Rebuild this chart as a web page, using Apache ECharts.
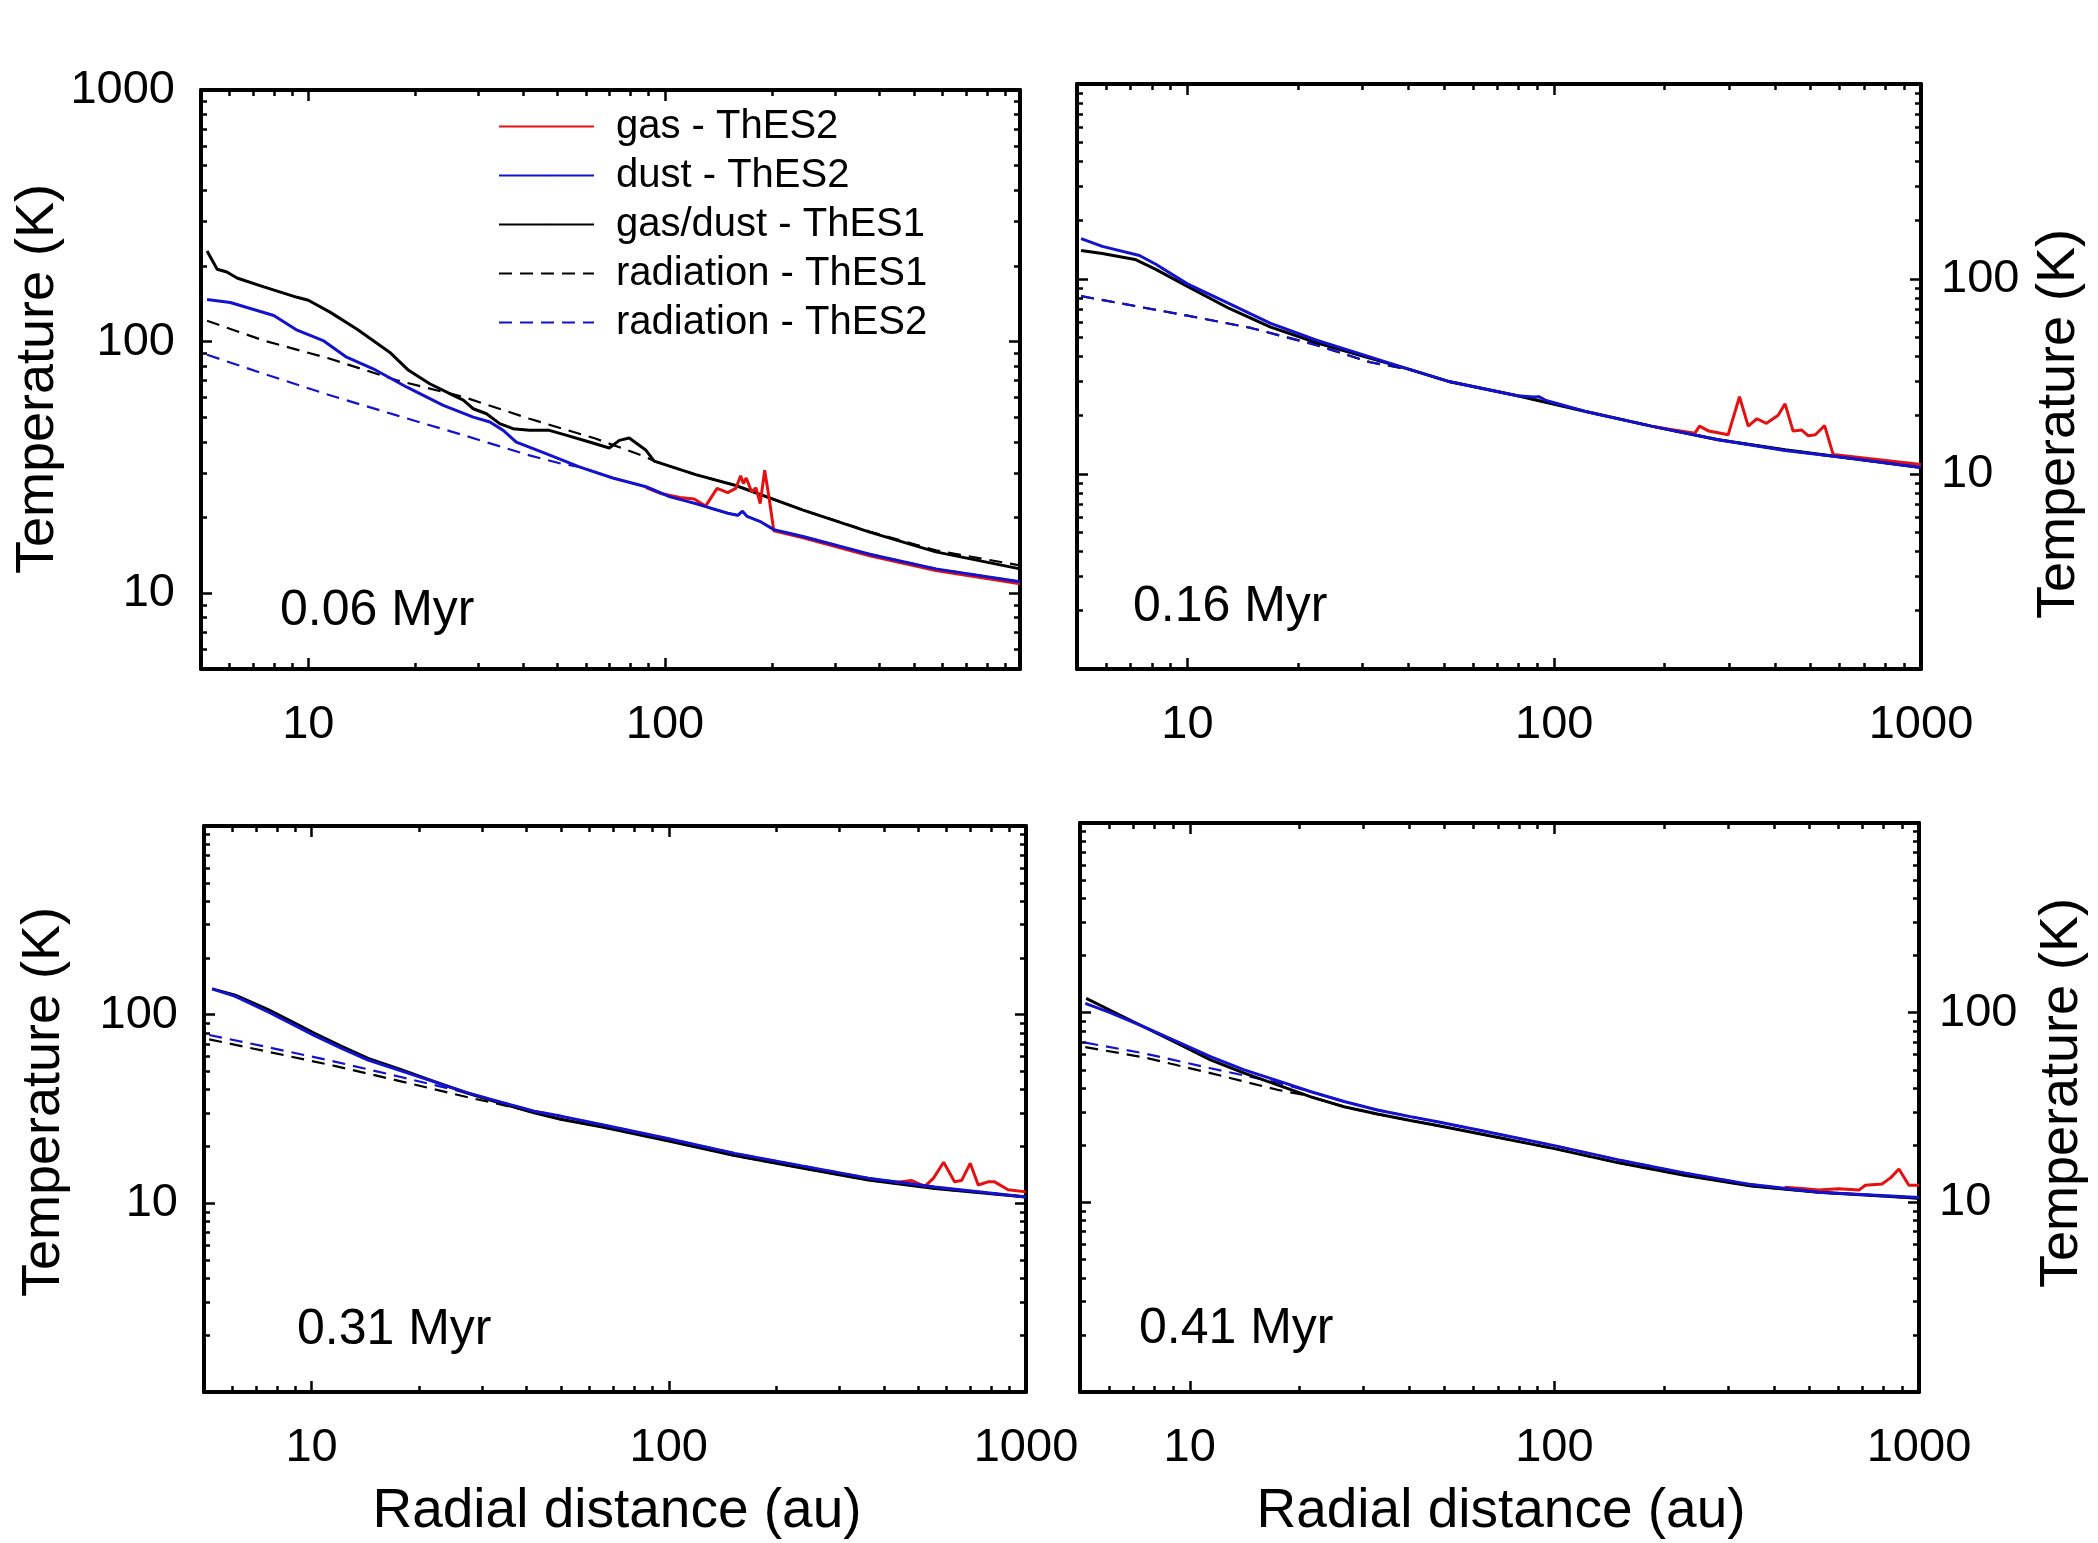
<!DOCTYPE html>
<html>
<head>
<meta charset="utf-8">
<script src="https://cdn.jsdelivr.net/npm/echarts@6/dist/echarts.min.js"></script>
<style>
html, body { margin: 0; padding: 0; background: #fff; }
#chart { width: 2098px; height: 1543px; }
</style>
</head>
<body>
<div id="chart"></div>
<script>
var seriesNames = ['gas - ThES2', 'dust - ThES2', 'gas/dust - ThES1', 'radiation - ThES1', 'radiation - ThES2'];
var ageLabels = ['0.06 Myr', '0.16 Myr', '0.31 Myr', '0.41 Myr'];
var xTitle = 'Radial distance (au)';
var yTitle = 'Temperature (K)';
var majorTicks = [1, 10, 100, 1000];
var minorSteps = [2, 3, 4, 5, 6, 7, 8, 9];

// 0.06 Myr  [r (au), T (K)]
var p1Gas = [[88.5, 26.3], [97.5, 24.9], [110, 24.0], [120.8, 23.7], [130, 22.2], [140, 26.1], [150, 25.1], [158, 26.1], [163, 29.3], [166, 27.3], [169, 28.7], [175, 25.3], [180, 26.2], [185, 22.7], [190.4, 30.8], [196, 23.8], [202, 17.7], [244, 16.6], [375, 14.1], [575, 12.3], [990, 10.9]];
var p1Dust = [[5.2, 147], [6.04, 143], [8.0, 127], [9.3, 111], [11, 101], [12.8, 86.7], [15.2, 78], [18.9, 65.9], [23.9, 55.8], [29, 50.1], [32.3, 47.9], [35.2, 44.4], [38.3, 39.9], [46.4, 35.9], [57.5, 31.8], [71.4, 28.7], [88.5, 26.5], [103, 24.2], [122, 22.7], [150, 20.8], [160, 20.4], [165, 21.2], [170, 20.2], [186, 19.2], [202, 17.9], [244, 16.8], [375, 14.3], [575, 12.5], [990, 11.1]];
var p1Thes1 = [[5.2, 229], [5.55, 194], [5.91, 189], [6.31, 179], [7.5, 165], [9.3, 150], [10, 146], [11.5, 131], [13.7, 112], [16.9, 90.8], [19.1, 76.9], [21.9, 68], [25.5, 61.2], [27.2, 58.5], [29, 54.1], [31.6, 51.7], [34.4, 47.2], [37.5, 45.1], [41.7, 44.4], [47.4, 44.4], [52.8, 42.5], [61.4, 39.9], [69.8, 37.8], [74.5, 40.5], [79.4, 41.4], [88.5, 37], [93.3, 33.5], [122, 29.6], [158, 26.8], [244, 21.4], [375, 17.5], [575, 14.6], [990, 12.5]];
var p1Rad1 = [[5.2, 121], [7.5, 101], [11.5, 85.5], [17.7, 70.2], [27.2, 60.3], [41.7, 49.4], [64.1, 41.1], [88.5, 34.8], [93.3, 33.5], [122, 29.6], [158, 26.8], [244, 21.4], [375, 17.6], [575, 14.8], [990, 12.9]];
var p1Rad2 = [[5.2, 88.7], [7.5, 74.5], [11.5, 61.2], [17.7, 50.9], [27.2, 42.5], [41.7, 35.3], [51.8, 32.6], [57.5, 31.8], [71.4, 28.7], [88.5, 26.5], [103, 24.2], [122, 22.7], [150, 20.8], [160, 20.4], [165, 21.2], [170, 20.2], [186, 19.2], [202, 17.9], [244, 16.8], [375, 14.3], [575, 12.5], [990, 11.1]];

// 0.16 Myr
var p2Gas = [[184, 17.6], [208, 16.9], [242, 16.2], [249, 17.6], [264, 16.6], [298, 15.9], [320, 24.9], [338, 17.6], [357, 19.2], [379, 18.2], [408, 20], [426, 22.9], [448, 16.6], [473, 16.8], [493, 15.7], [515, 15.9], [546, 17.7], [576, 12.6], [1000, 11.2]];
var p2Dust = [[5.13, 161], [5.86, 147], [7.4, 132], [8.2, 119], [10, 94.4], [13, 74.8], [16.8, 59.4], [22.5, 48.5], [30.2, 40.8], [40.5, 34.3], [52, 29.7], [79.4, 25.2], [88, 24.8], [91, 24.9], [95, 23.8], [121, 21], [184, 17.6], [280, 15], [426, 13.2], [649, 12], [1000, 10.8]];
var p2Thes1 = [[5.13, 140], [5.86, 135], [7.2, 126], [8.2, 112], [10, 91.6], [13, 70.6], [16.8, 56.8], [22.5, 47.1], [30.2, 40.1], [40.5, 34.3], [52, 29.7], [79.4, 25.2], [121, 21], [184, 17.6], [280, 15], [426, 13.3], [649, 12], [1000, 10.8]];
var p2Rad1 = [[5.13, 81.7], [10, 64.9], [14.9, 56.1], [22.5, 45.8], [31.5, 37.4], [40.5, 34.3], [52, 29.7], [79.4, 25.2], [121, 21], [184, 17.6], [280, 15], [426, 13.3], [649, 12], [1000, 10.8]];
var p2Rad2 = [[5.13, 81.7], [10, 64.9], [14.9, 56.1], [22.5, 45.8], [31.5, 37.4], [40.5, 34.3], [52, 29.7], [79.4, 25.2], [88, 24.8], [91, 24.9], [95, 23.8], [121, 21], [184, 17.6], [280, 15], [426, 13.2], [649, 12], [1000, 10.8]];

// 0.31 Myr
var p3Gas = [[430, 12.9], [479, 13.2], [521, 12.3], [551, 13.6], [588, 16.5], [631, 13.0], [660, 13.2], [698, 16.3], [735, 12.5], [783, 13.0], [817, 13.0], [891, 11.8], [1000, 11.5]];
var p3Dust = [[5.27, 137], [6.12, 125], [7.59, 103], [9.0, 87.5], [10.2, 77.5], [12.1, 66.5], [14.4, 57.5], [17.9, 50.2], [22.1, 44], [27.4, 38.5], [33.9, 34.4], [42, 30.8], [49.8, 29], [65.2, 26.1], [100, 22.0], [153, 18.4], [236, 15.8], [362, 13.6], [556, 12.2], [1000, 10.8]];
var p3Thes1 = [[5.27, 137], [6.12, 127], [7.59, 106], [9.0, 90], [10.2, 79.6], [12.1, 68.2], [14.4, 58.7], [17.9, 50.9], [22.1, 44.2], [27.4, 38.3], [33.9, 33.9], [42, 30.2], [49.8, 27.9], [65.2, 25.4], [100, 21.4], [153, 17.9], [236, 15.4], [362, 13.3], [556, 12.0], [1000, 10.8]];
var p3Rad1 = [[5.17, 74], [7.59, 63.5], [11.6, 53.5], [17.9, 44.2], [27.4, 36.5], [37.7, 31.9], [42, 30.2], [49.8, 27.9], [65.2, 25.4], [100, 21.4], [153, 17.9], [236, 15.4], [362, 13.3], [556, 12.0], [1000, 10.8]];
var p3Rad2 = [[5.17, 78], [7.59, 67.1], [11.6, 56.4], [17.9, 46.6], [25.6, 39.6], [33.9, 34.4], [42, 30.8], [49.8, 29], [65.2, 26.1], [100, 22.0], [153, 18.4], [236, 15.8], [362, 13.6], [556, 12.2], [1000, 10.8]];

// 0.41 Myr
var p4Gas = [[428, 12], [487, 11.8], [530, 11.6], [601, 11.8], [684, 11.6], [713, 12.3], [792, 12.5], [837, 13.5], [881, 15], [938, 12.3], [1000, 12.3]];
var p4Dust = [[5.17, 112], [6.05, 100], [7.47, 84.3], [9.23, 70.4], [11.4, 58.6], [14.1, 49.9], [17.4, 43.8], [21.4, 38.4], [26.5, 34], [32.7, 30.7], [40.3, 28.3], [47.8, 26.6], [63.8, 23.8], [100, 19.9], [149, 16.8], [227, 14.3], [347, 12.4], [530, 11.3], [1000, 10.6]];
var p4Thes1 = [[5.2, 119], [6.05, 103], [7.47, 84.3], [9.23, 69], [11.4, 56.4], [14.1, 48], [17.4, 41.6], [21.4, 36.1], [26.5, 31.9], [32.7, 29.2], [40.3, 27], [47.8, 25.4], [63.8, 22.8], [100, 19.2], [149, 16.2], [227, 13.9], [347, 12.2], [530, 11.3], [1000, 10.5]];
var p4Rad1 = [[5.17, 65.8], [7.47, 58.2], [11.4, 48], [17.4, 39.2], [20.6, 36.8], [26.5, 31.9], [32.7, 29.2], [40.3, 27], [47.8, 25.4], [63.8, 22.8], [100, 19.2], [149, 16.2], [227, 13.9], [347, 12.2], [530, 11.3], [1000, 10.5]];
var p4Rad2 = [[5.17, 69.5], [7.47, 61.1], [11.4, 50.9], [17.4, 42.8], [21.4, 38.4], [26.5, 34], [32.7, 30.7], [40.3, 28.3], [47.8, 26.6], [63.8, 23.8], [100, 19.9], [149, 16.8], [227, 14.3], [347, 12.4], [530, 11.3], [1000, 10.6]];

var FONT = '"Liberation Sans", Arial, Helvetica, sans-serif';
var RED = '#e3110f';
var BLUE = '#1212cf';

var lineStyles = [
    {color: RED, width: 3, type: 'solid'},
    {color: BLUE, width: 3, type: 'solid'},
    {color: '#000', width: 3, type: 'solid'},
    {color: '#000', width: 2.2, type: [13, 8]},
    {color: BLUE, width: 2.2, type: [13, 8]}
];
// dashed lines first, then black, red, blue on top
var drawOrder = [3, 4, 2, 0, 1];

var panels = [
    {grid: {left: 201, top: 90, width: 819, height: 579}, x: [5, 990], y: [5, 1000],
        xLabels: [10, 100], yLabels: [10, 100, 1000], ySide: 'left',
        tag: [280, 611], title: [38, 379], lines: [p1Gas, p1Dust, p1Thes1, p1Rad1, p1Rad2]},
    {grid: {left: 1077, top: 84, width: 844, height: 585}, x: [5, 1000], y: [1, 1000],
        xLabels: [10, 100, 1000], yLabels: [10, 100], ySide: 'right',
        tag: [1133, 607], title: [2059, 424], lines: [p2Gas, p2Dust, p2Thes1, p2Rad1, p2Rad2]},
    {grid: {left: 204, top: 826, width: 822, height: 566}, x: [5, 1000], y: [1, 1000],
        xLabels: [10, 100, 1000], yLabels: [10, 100], ySide: 'left',
        tag: [297, 1330], title: [44, 1102], xName: [617, 1512], lines: [p3Gas, p3Dust, p3Thes1, p3Rad1, p3Rad2]},
    {grid: {left: 1080, top: 823, width: 839, height: 569}, x: [5, 1000], y: [1, 1000],
        xLabels: [10, 100, 1000], yLabels: [10, 100], ySide: 'right',
        tag: [1139, 1329], title: [2062, 1093], xName: [1501, 1512], lines: [p4Gas, p4Dust, p4Thes1, p4Rad1, p4Rad2]}
];

var minorTicks = [];
majorTicks.forEach(function (d) {
    minorSteps.forEach(function (s) { minorTicks.push(d * s); });
});

function lg(v) { return Math.log10(v); }

function tickList(values, range) {
    return values.filter(function (v) { return v >= range[0] && v <= range[1]; }).map(lg);
}

// value axes in log10 units that only draw the frame, ticks and labels
function frameAxis(gi, pos, range, ticks, len, withLine, labels, margin) {
    var axis = {
        type: 'value', gridIndex: gi, position: pos,
        min: lg(range[0]), max: lg(range[1]),
        axisLine: {show: withLine, onZero: false, lineStyle: {color: '#000', width: 4}},
        axisTick: {show: true, inside: true, length: len, customValues: tickList(ticks, range),
            lineStyle: {color: '#000', width: 2.5}},
        axisLabel: {show: false},
        splitLine: {show: false}
    };
    if (labels) {
        axis.axisLabel = {
            show: true, customValues: tickList(labels, range), margin: margin,
            fontSize: 47, fontFamily: FONT, color: '#000',
            formatter: function (v) { return String(Math.round(Math.pow(10, v))); }
        };
    }
    return axis;
}

var grids = [], xAxes = [], yAxes = [], series = [], graphics = [];

panels.forEach(function (p, gi) {
    grids.push(p.grid);
    var xi = xAxes.length, yi = yAxes.length;
    xAxes.push({type: 'log', logBase: 10, gridIndex: gi, min: p.x[0], max: p.x[1], show: false});
    yAxes.push({type: 'log', logBase: 10, gridIndex: gi, min: p.y[0], max: p.y[1], show: false});

    xAxes.push(frameAxis(gi, 'bottom', p.x, majorTicks, 11, true, p.xLabels, 33));
    xAxes.push(frameAxis(gi, 'bottom', p.x, minorTicks, 6, false));
    xAxes.push(frameAxis(gi, 'top', p.x, majorTicks, 11, true));
    xAxes.push(frameAxis(gi, 'top', p.x, minorTicks, 6, false));

    yAxes.push(frameAxis(gi, 'left', p.y, majorTicks, 11, true, p.ySide === 'left' ? p.yLabels : null, 26));
    yAxes.push(frameAxis(gi, 'left', p.y, minorTicks, 6, false));
    yAxes.push(frameAxis(gi, 'right', p.y, majorTicks, 11, true, p.ySide === 'right' ? p.yLabels : null, 20));
    yAxes.push(frameAxis(gi, 'right', p.y, minorTicks, 6, false));

    drawOrder.forEach(function (k, order) {
        series.push({
            type: 'line', name: seriesNames[k], data: p.lines[k],
            xAxisIndex: xi, yAxisIndex: yi,
            symbol: 'none', showSymbol: false, smooth: false,
            color: lineStyles[k].color,
            lineStyle: lineStyles[k],
            z: 2 + order, silent: true
        });
    });

    graphics.push({
        type: 'text', x: p.tag[0], y: p.tag[1],
        style: {text: ageLabels[gi], fontSize: 50, fontFamily: FONT, fill: '#000', align: 'left', verticalAlign: 'middle'}
    });
    graphics.push({
        type: 'text', x: p.title[0], y: p.title[1], rotation: Math.PI / 2,
        style: {text: yTitle, fontSize: 54, fontFamily: FONT, fill: '#000', align: 'center', verticalAlign: 'middle'}
    });
    if (p.xName) {
        graphics.push({
            type: 'text', x: p.xName[0], y: p.xName[1],
            style: {text: xTitle, fontSize: 55, fontFamily: FONT, fill: '#000', align: 'center', verticalAlign: 'middle'}
        });
    }
});

var chart = echarts.init(document.getElementById('chart'));
chart.setOption({
    animation: false,
    backgroundColor: '#fff',
    grid: grids,
    xAxis: xAxes,
    yAxis: yAxes,
    legend: {
        data: seriesNames,
        orient: 'vertical',
        left: 498, top: 102,
        padding: 0, itemGap: 0,
        itemWidth: 95, itemHeight: 2,
        selectedMode: false,
        textStyle: {fontSize: 40, fontFamily: FONT, color: '#000', lineHeight: 49, padding: [0, 0, 0, 17]}
    },
    graphic: graphics,
    series: series
});
</script>
</body>
</html>
